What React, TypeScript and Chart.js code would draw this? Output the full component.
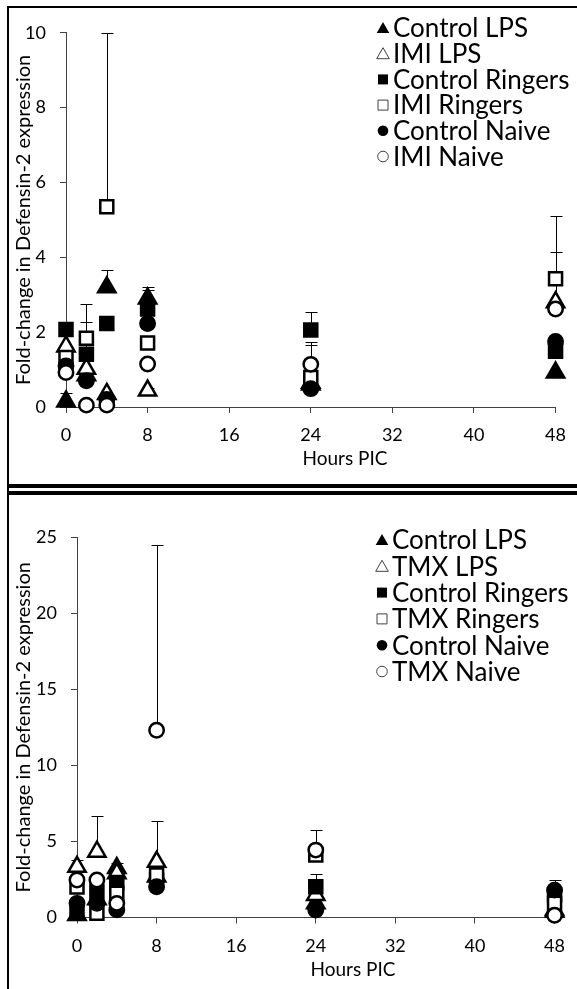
import React, { useEffect, useRef } from 'react';
import { Chart, registerables } from 'chart.js';

Chart.register(...registerables);

// ---------- data ----------
const HOURS = [0, 2, 4, 8, 24, 48];
const X_TICKS = [0, 8, 16, 24, 32, 40, 48];
const Y_TITLE = 'Fold-change in Defensin-2 expression';
const X_TITLE = 'Hours PIC';

// Top panel (IMI)
const IMI_LABELS = ['Control LPS', 'IMI LPS', 'Control Ringers', 'IMI Ringers', 'Control Naive', 'IMI Naive'];
const IMI_CONTROL_LPS = [0.15, 0.85, 3.2, 2.9, 0.6, 0.92];
const IMI_IMI_LPS = [1.62, 1.02, 0.35, 0.44, 0.65, 2.8];
const IMI_CONTROL_RINGERS = [2.07, 1.41, 2.23, 2.62, 2.06, 1.49];
const IMI_IMI_RINGERS = [1.32, 1.84, 5.35, 1.71, 0.79, 3.43];
const IMI_CONTROL_NAIVE = [1.1, 0.7, 0.2, 2.23, 0.49, 1.75];
const IMI_IMI_NAIVE = [0.92, 0.05, 0.05, 1.15, 1.14, 2.62];
// upper error bar sizes (null = none visible)
const IMI_CONTROL_LPS_ERR = [0.22, null, 0.45, 0.3, null, null];
const IMI_IMI_LPS_ERR = [null, null, null, 0.08, null, 1.33];
const IMI_CONTROL_RINGERS_ERR = [null, 0.87, null, 0.51, 0.48, null];
const IMI_IMI_RINGERS_ERR = [null, 0.92, 4.65, null, 0.96, 1.68];
const IMI_CONTROL_NAIVE_ERR = [null, null, null, null, null, null];
const IMI_IMI_NAIVE_ERR = [null, null, null, null, 0.53, null];
const IMI_Y_MAX = 10;
const IMI_Y_STEP = 2;

// Bottom panel (TMX)
const TMX_LABELS = ['Control LPS', 'TMX LPS', 'Control Ringers', 'TMX Ringers', 'Control Naive', 'TMX Naive'];
const TMX_CONTROL_LPS = [0.16, 1.2, 3.25, 2.7, 0.93, 0.5];
const TMX_TMX_LPS = [3.33, 4.32, 2.9, 3.66, 1.48, 0.38];
const TMX_CONTROL_RINGERS = [0.6, 1.7, 2.3, 2.46, 2.02, 1.48];
const TMX_TMX_RINGERS = [2.0, 0.28, 1.6, 2.79, 4.1, 0.93];
const TMX_CONTROL_NAIVE = [0.93, 0.93, 0.5, 2.02, 0.49, 1.8];
const TMX_TMX_NAIVE = [2.46, 2.46, 0.93, 12.3, 4.43, 0.15];
const TMX_CONTROL_LPS_ERR = [null, null, 0.35, null, null, null];
const TMX_TMX_LPS_ERR = [0.47, 2.34, null, 2.69, null, null];
const TMX_CONTROL_RINGERS_ERR = [null, null, null, null, 0.83, 0.98];
const TMX_TMX_RINGERS_ERR = [null, null, null, null, null, null];
const TMX_CONTROL_NAIVE_ERR = [null, null, null, null, null, null];
const TMX_TMX_NAIVE_ERR = [null, null, null, 12.2, 1.31, null];
const TMX_Y_MAX = 25;
const TMX_Y_STEP = 5;

// ---------- styles ----------
const POINT_STYLES = ['triangle', 'triangle', 'rect', 'rect', 'circle', 'circle'];
const FILLED = [true, false, true, false, true, false];
const POINT_RADII = [10, 10, 9.2, 9.2, 7.2, 7.2];
const FONT = 'Lato';
const AXIS = '#404040';

type Geo = {
  left: number; top: number; w: number; h: number;
  area: { left: number; right: number; top: number; bottom: number };
  legend: { markerX: number; textX: number; y0: number; dy: number };
  xTitle: { x: number; y: number };
  xTickPad: number;
};

const TOP_G: Geo = {
  left: 9, top: 8, w: 568, h: 476,
  area: { left: 57, right: 547, top: 17, bottom: 399 },
  legend: { markerX: 374, textX: 384, y0: 20, dy: 25.7 },
  xTitle: { x: 336, y: 451 },
  xTickPad: 11,
};
const BOTTOM_G: Geo = {
  left: 9, top: 495, w: 568, h: 494,
  area: { left: 68, right: 547, top: 42, bottom: 422.5 },
  legend: { markerX: 373, textX: 383, y0: 45, dy: 26.3 },
  xTitle: { x: 344, y: 475 },
  xTickPad: 12,
};

function drawMarker(ctx: CanvasRenderingContext2D, style: string, filled: boolean, x: number, y: number) {
  ctx.save();
  ctx.beginPath();
  if (style === 'triangle') {
    ctx.moveTo(x, y - 6);
    ctx.lineTo(x + 6.3, y + 5);
    ctx.lineTo(x - 6.3, y + 5);
    ctx.closePath();
  } else if (style === 'rect') {
    ctx.rect(x - 5, y - 5, 10, 10);
  } else {
    ctx.arc(x, y, 5.3, 0, Math.PI * 2);
  }
  if (filled) {
    ctx.fillStyle = '#000';
    ctx.fill();
  } else {
    ctx.fillStyle = '#fff';
    ctx.fill();
    ctx.lineWidth = 1;
    ctx.strokeStyle = '#404040';
    ctx.stroke();
  }
  ctx.restore();
}

type PanelProps = {
  g: Geo;
  labels: string[];
  series: number[][];
  errors: (number | null)[][];
  yMax: number;
  yStep: number;
};

function Panel({ g, labels, series, errors, yMax, yStep }: PanelProps) {
  const ref = useRef<HTMLCanvasElement>(null);

  useEffect(() => {
    const canvas = ref.current;
    if (!canvas) return;

    const datasets = labels.map((label, i) => ({
      label,
      data: HOURS.map((h, j) => ({ x: h, y: series[i][j] })),
      errorBars: errors[i],
      showLine: false,
      clip: false,
      pointStyle: POINT_STYLES[i],
      pointRadius: POINT_RADII[i],
      pointHoverRadius: POINT_RADII[i],
      pointBackgroundColor: FILLED[i] ? '#000' : '#fff',
      pointBorderColor: '#000',
      pointBorderWidth: 2.5,
      backgroundColor: FILLED[i] ? '#000' : '#fff',
      borderColor: '#000',
      order: labels.length - i,
    }));

    const errorPlugin = {
      id: 'errorBars',
      beforeDatasetsDraw(chart: any) {
        const { ctx } = chart;
        const xs = chart.scales.x;
        const ys = chart.scales.y;
        ctx.save();
        ctx.strokeStyle = '#000';
        ctx.lineWidth = 1;
        chart.data.datasets.forEach((ds: any) => {
          ds.data.forEach((p: any, j: number) => {
            const e = ds.errorBars[j];
            if (e == null) return;
            const x = Math.round(xs.getPixelForValue(p.x)) + 0.5;
            const y0 = ys.getPixelForValue(p.y);
            const y1 = Math.round(ys.getPixelForValue(p.y + e)) + 0.5;
            ctx.beginPath();
            ctx.moveTo(x, y0);
            ctx.lineTo(x, y1);
            ctx.moveTo(x - 6, y1);
            ctx.lineTo(x + 6, y1);
            ctx.stroke();
          });
        });
        ctx.restore();
      },
    };

    const overlayPlugin = {
      id: 'overlay',
      afterDraw(chart: any) {
        const { ctx } = chart;
        ctx.save();
        // legend
        ctx.font = `26px ${FONT}`;
        ctx.textBaseline = 'middle';
        ctx.textAlign = 'left';
        labels.forEach((lab, i) => {
          const y = g.legend.y0 + i * g.legend.dy;
          drawMarker(ctx, POINT_STYLES[i], FILLED[i], g.legend.markerX, y);
          ctx.fillStyle = '#000';
          ctx.fillText(lab, g.legend.textX, y + 1);
        });
        // x axis title
        ctx.font = `19px ${FONT}`;
        ctx.textAlign = 'center';
        ctx.fillStyle = '#000';
        ctx.fillText(X_TITLE, g.xTitle.x, g.xTitle.y);
        ctx.restore();
      },
    };

    const chart = new Chart(canvas, {
      type: 'scatter',
      data: { datasets: datasets as any },
      options: {
        animation: false,
        responsive: false,
        devicePixelRatio: 1,
        events: [],
        layout: { padding: { left: 0, top: g.area.top, right: g.w - g.area.right, bottom: 0 } },
        plugins: { legend: { display: false }, tooltip: { enabled: false } },
        scales: {
          x: {
            type: 'linear',
            min: 0,
            max: 48,
            afterBuildTicks: (s: any) => {
              s.ticks = X_TICKS.map((v) => ({ value: v }));
            },
            afterFit: (s: any) => {
              s.height = g.h - g.area.bottom;
            },
            grid: { display: true, drawOnChartArea: false, drawTicks: true, tickLength: 6, color: AXIS },
            border: { display: true, color: AXIS, width: 1 },
            ticks: { font: { family: FONT, size: 18 }, color: '#000', padding: g.xTickPad, maxRotation: 0, autoSkip: false },
          },
          y: {
            type: 'linear',
            min: 0,
            max: yMax,
            ticks: { stepSize: yStep, font: { family: FONT, size: 18 }, color: '#000', padding: 14 },
            afterFit: (s: any) => {
              s.width = g.area.left;
            },
            grid: { display: true, drawOnChartArea: false, drawTicks: true, tickLength: 6, color: AXIS },
            border: { display: true, color: AXIS, width: 1 },
            title: {
              display: true,
              text: Y_TITLE,
              font: { family: FONT, size: 20 },
              color: '#000',
              padding: { top: 3, bottom: 0 },
            },
          },
        },
      } as any,
      plugins: [errorPlugin, overlayPlugin],
    });

    return () => chart.destroy();
  }, []);

  return (
    <canvas
      ref={ref}
      width={g.w}
      height={g.h}
      style={{ position: 'absolute', left: g.left, top: g.top, width: g.w, height: g.h }}
    />
  );
}

export default function App() {
  return (
    <div style={{ position: 'absolute', left: 0, top: 0, width: 577, height: 989, overflow: 'hidden', background: '#fff' }}>
      <div style={{ position: 'absolute', left: 7, top: 6, width: 2, height: 983, background: '#000' }} />
      <div style={{ position: 'absolute', left: 7, top: 6, width: 570, height: 2, background: '#000' }} />
      <div style={{ position: 'absolute', left: 7, top: 484, width: 570, height: 4, background: '#000' }} />
      <div style={{ position: 'absolute', left: 7, top: 491, width: 570, height: 4, background: '#000' }} />
      <Panel
        g={TOP_G}
        labels={IMI_LABELS}
        series={[IMI_CONTROL_LPS, IMI_IMI_LPS, IMI_CONTROL_RINGERS, IMI_IMI_RINGERS, IMI_CONTROL_NAIVE, IMI_IMI_NAIVE]}
        errors={[IMI_CONTROL_LPS_ERR, IMI_IMI_LPS_ERR, IMI_CONTROL_RINGERS_ERR, IMI_IMI_RINGERS_ERR, IMI_CONTROL_NAIVE_ERR, IMI_IMI_NAIVE_ERR]}
        yMax={IMI_Y_MAX}
        yStep={IMI_Y_STEP}
      />
      <Panel
        g={BOTTOM_G}
        labels={TMX_LABELS}
        series={[TMX_CONTROL_LPS, TMX_TMX_LPS, TMX_CONTROL_RINGERS, TMX_TMX_RINGERS, TMX_CONTROL_NAIVE, TMX_TMX_NAIVE]}
        errors={[TMX_CONTROL_LPS_ERR, TMX_TMX_LPS_ERR, TMX_CONTROL_RINGERS_ERR, TMX_TMX_RINGERS_ERR, TMX_CONTROL_NAIVE_ERR, TMX_TMX_NAIVE_ERR]}
        yMax={TMX_Y_MAX}
        yStep={TMX_Y_STEP}
      />
    </div>
  );
}
